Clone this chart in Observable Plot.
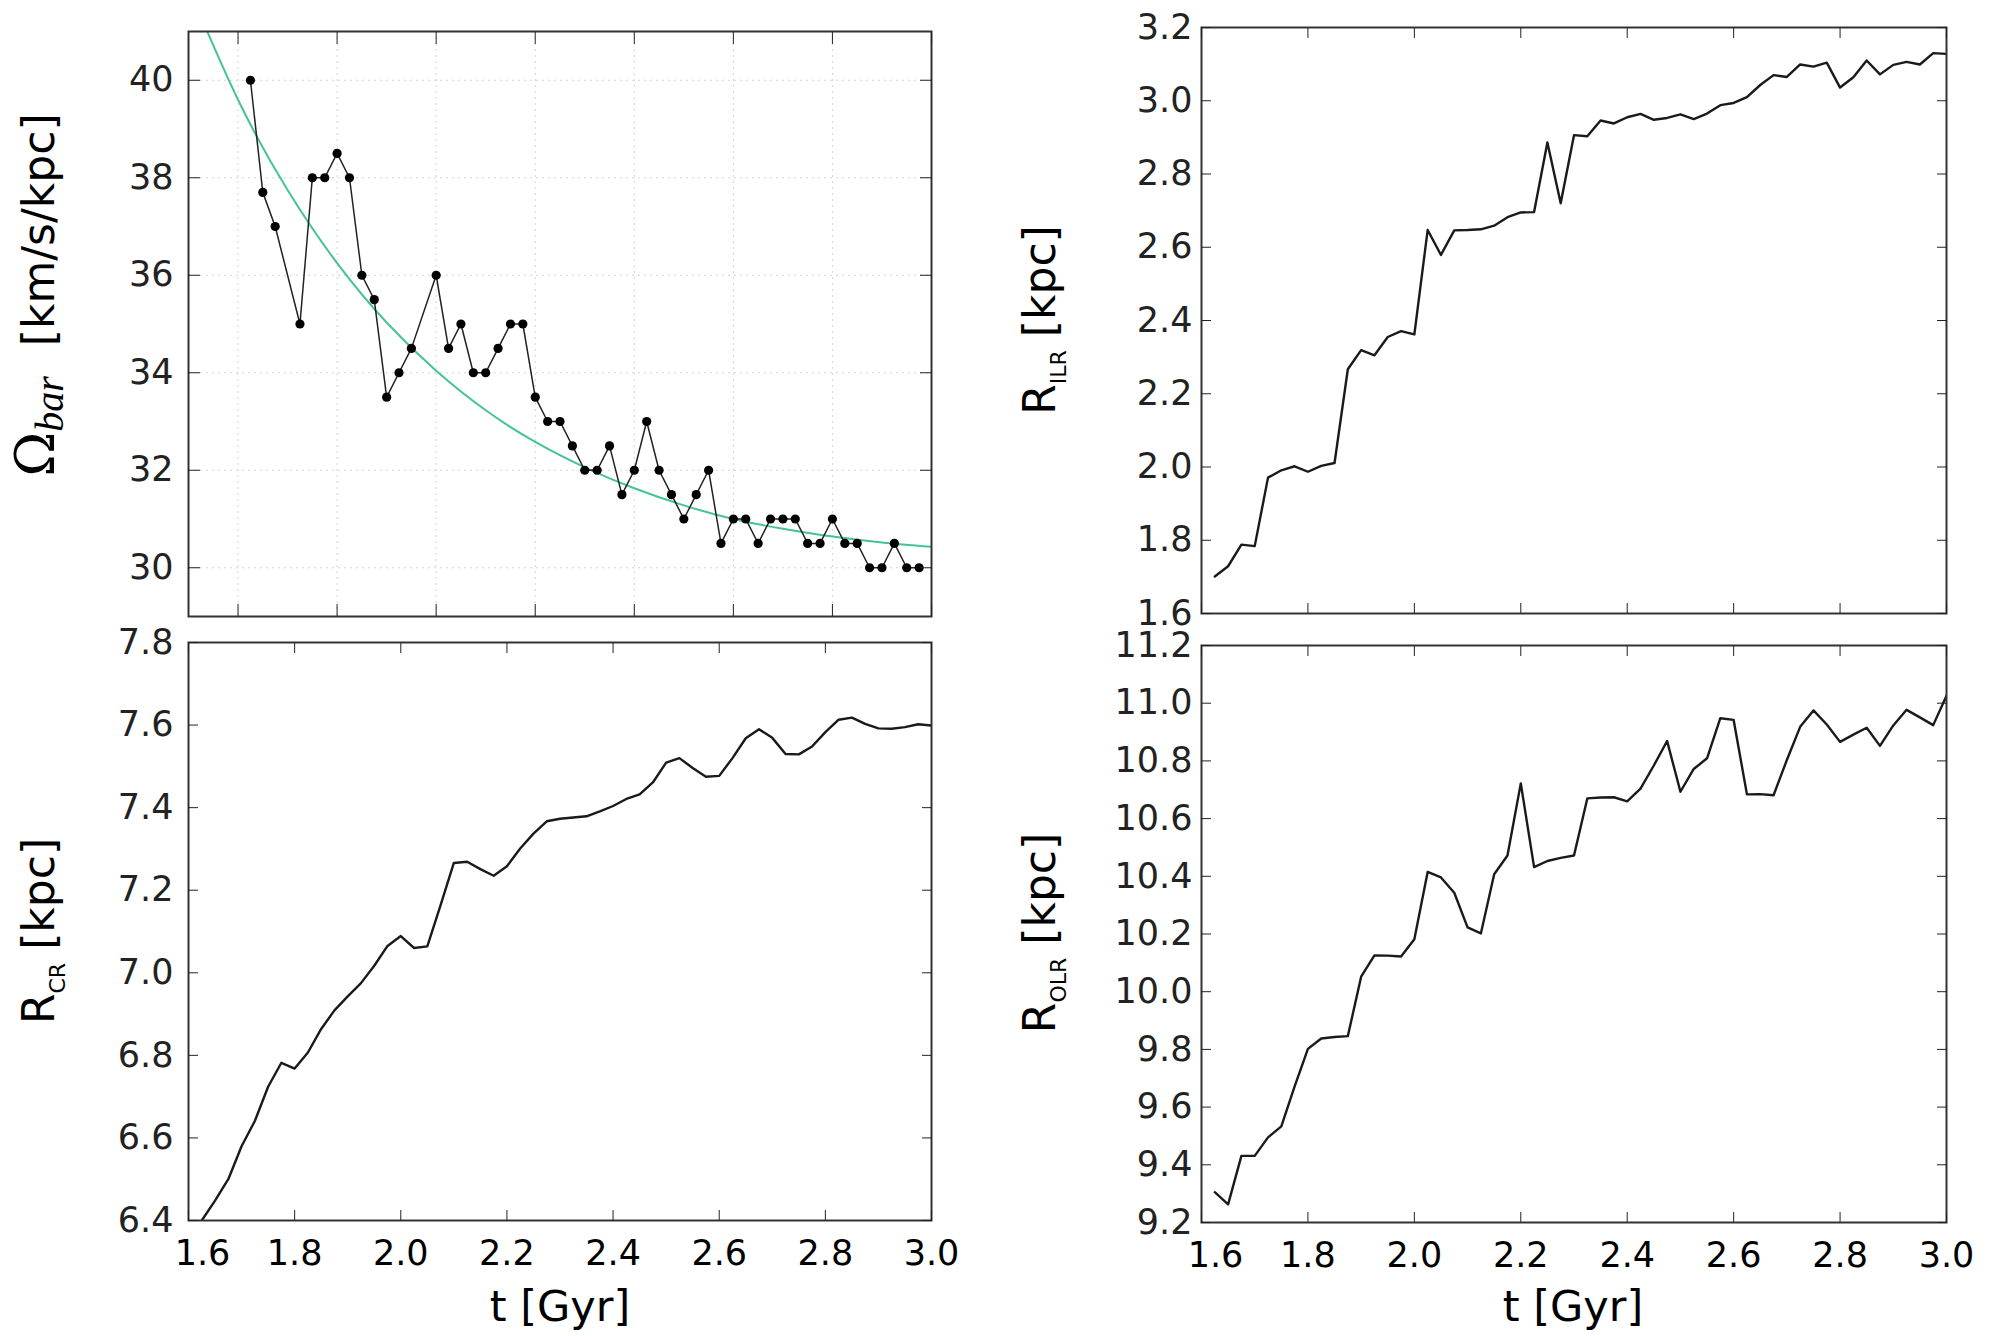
<!DOCTYPE html>
<html><head><meta charset="utf-8">
<script src="https://cdn.jsdelivr.net/npm/d3@7"></script>
<script src="https://cdn.jsdelivr.net/npm/@observablehq/plot@0.6"></script>
<style>
html,body{margin:0;padding:0;background:#fff;}
#fig{position:relative;width:1998px;height:1336px;background:#fff;overflow:hidden;}
#fig > svg{position:absolute;}
</style></head><body><div id="fig"></div>
<script>
// ---- data ----
const omegaT = [1.625,1.65,1.675,1.725,1.75,1.775,1.8,1.825,1.85,1.875,1.9,1.925,1.95,
  2.0,2.025,2.05,2.075,2.1,2.125,2.15,2.175,2.2,2.225,2.25,2.275,2.3,2.325,2.35,2.375,2.4,2.425,2.45,2.475,
  2.5,2.525,2.55,2.575,2.6,2.625,2.65,2.675,2.7,2.725,2.75,2.775,2.8,2.825,2.85,2.875,2.9,2.925,2.95,2.975];
const omegaV = [40,37.7,37,35,38,38,38.5,38,36,35.5,33.5,34,34.5,
  36,34.5,35,34,34,34.5,35,35,33.5,33,33,32.5,32,32,32.5,31.5,32,33,32,31.5,
  31,31.5,32,30.5,31,31,30.5,31,31,31,30.5,30.5,31,30.5,30.5,30,30,30.5,30,30];
const fitT = [1.5,1.6,1.7,1.8,1.9,2.0,2.1,2.2,2.3,2.4,2.5,2.6,2.7,2.8,2.9,3.0];
const fitV = [41.9,39.6,37.75,36.25,35.03,34.04,33.23,32.58,32.06,31.63,31.28,31.0,30.8,30.64,30.52,30.43];

const lineT = [1.625,1.65,1.675,1.7,1.725,1.75,1.775,1.8,1.825,1.85,1.875,1.9,1.925,1.95,1.975,
  2.0,2.025,2.05,2.075,2.1,2.125,2.15,2.175,2.2,2.225,2.25,2.275,2.3,2.325,2.35,2.375,2.4,2.425,2.45,2.475,
  2.5,2.525,2.55,2.575,2.6,2.625,2.65,2.675,2.7,2.725,2.75,2.775,2.8,2.825,2.85,2.875,2.9,2.925,2.95,2.975,3.0];
const ilrV = [1.701,1.729,1.788,1.784,1.971,1.991,2.002,1.987,2.003,2.011,2.267,2.319,2.305,2.355,2.371,
  2.362,2.647,2.579,2.646,2.647,2.649,2.659,2.682,2.695,2.696,2.886,2.720,2.906,2.903,2.946,2.938,2.955,2.964,2.948,2.953,
  2.963,2.950,2.965,2.988,2.994,3.010,3.043,3.070,3.065,3.099,3.093,3.104,3.036,3.064,3.110,3.072,3.098,3.106,3.099,3.130,3.128];
const crV = [6.400,6.448,6.500,6.580,6.641,6.724,6.782,6.768,6.807,6.864,6.909,6.943,6.975,7.017,7.065,
  7.089,7.060,7.064,7.164,7.266,7.269,7.251,7.235,7.258,7.301,7.337,7.367,7.373,7.376,7.379,7.391,7.404,7.421,7.432,7.461,
  7.509,7.520,7.496,7.475,7.477,7.520,7.568,7.590,7.569,7.530,7.529,7.548,7.583,7.613,7.618,7.603,7.592,7.591,7.595,7.602,7.599];
const olrV = [9.305,9.263,9.431,9.431,9.495,9.533,9.672,9.802,9.838,9.843,9.846,10.052,10.126,10.125,10.122,
  10.182,10.415,10.396,10.343,10.223,10.202,10.407,10.472,10.722,10.432,10.453,10.464,10.472,10.670,10.673,10.674,10.660,10.704,10.784,10.869,
  10.693,10.772,10.809,10.948,10.942,10.684,10.685,10.681,10.803,10.918,10.975,10.926,10.866,10.891,10.915,10.852,10.923,10.977,10.951,10.924,11.026];

// tick labels
const xTicks = [1.6,1.8,2.0,2.2,2.4,2.6,2.8,3.0];
const omegaTicks = [30,32,34,36,38,40];
const ilrTicks = [1.6,1.8,2.0,2.2,2.4,2.6,2.8,3.0,3.2];
const crTicks = [6.4,6.6,6.8,7.0,7.2,7.4,7.6,7.8];
const olrTicks = [9.2,9.4,9.6,9.8,10.0,10.2,10.4,10.6,10.8,11.0,11.2];

const omega = omegaT.map((t,i)=>({t, v: omegaV[i]}));
const fit = fitT.map((t,i)=>({t, v: fitV[i]}));
const ilr = lineT.map((t,i)=>({t, v: ilrV[i]}));
const cr = lineT.map((t,i)=>({t, v: crV[i]}));
const olr = lineT.map((t,i)=>({t, v: olrV[i]}));

const fig = document.getElementById("fig");
const fmt1 = d => d.toFixed(1);
const blank = () => "";
const INK = "#222";

function panel(o){
  const ts = o.tick;
  const marks = [];
  if (o.grid) {
    marks.push(Plot.gridX(xTicks, {stroke:"#d4d4d4", strokeOpacity:1, strokeWidth:1, strokeDasharray:"2,4"}));
    marks.push(Plot.gridY(o.yTicks, {stroke:"#d4d4d4", strokeOpacity:1, strokeWidth:1, strokeDasharray:"2,4"}));
  }
  marks.push(...o.marks);
  marks.push(Plot.frame({stroke:"#333", strokeWidth:2}));
  marks.push(Plot.axisY(o.yTicks, {anchor:"left", tickSize:-ts, tickPadding: ts + o.yPad, tickFormat:o.yFmt, fontSize:35, color:INK, label:null}));
  marks.push(Plot.axisY(o.yTicks, {anchor:"right", tickSize:-ts, tickFormat:blank, color:INK, label:null}));
  marks.push(Plot.axisX(xTicks, {anchor:"top", tickSize:-ts, tickFormat:blank, color:INK, label:null}));
  marks.push(Plot.axisX(xTicks, {anchor:"bottom", tickSize:-ts, tickFormat:blank, color:INK, label:null}));
  if (o.xLabels) {
    marks.push(Plot.axisX(xTicks.slice(1), {anchor:"bottom", tickSize:0, tickPadding:20, tickFormat:fmt1, fontSize:35, color:"#000", label:null}));
    marks.push(Plot.axisX(xTicks.slice(0,1), {anchor:"bottom", tickSize:0, tickPadding:20, dx:14, tickFormat:fmt1, fontSize:35, color:"#000", label:null}));
  }
  const svg = Plot.plot({
    width:o.W, height:o.H,
    marginLeft:o.m[0], marginRight:o.m[1], marginTop:o.m[2], marginBottom:o.m[3],
    x:{domain:o.xDomain, label:null},
    y:{domain:o.yDomain, label:null},
    style:{fontFamily:"DejaVu Sans", fontSize:"35px", background:"transparent", color:"#000", overflow:"visible"},
    marks
  });
  svg.style.left = o.left + "px";
  svg.style.top = o.top + "px";
  fig.appendChild(svg);
}

// top-left: pattern speed
panel({
  left:0, top:0, W:1000, H:630, m:[188,69,31,14],
  xDomain:[1.5,3.0], yDomain:[29,41], yTicks:omegaTicks, yFmt:d=>String(d), yPad:15, tick:12, grid:true,
  marks:[
    Plot.line(fit, {x:"t", y:"v", stroke:"#45c29b", strokeWidth:2, curve:"natural", clip:true}),
    Plot.line(omega, {x:"t", y:"v", stroke:"#222", strokeWidth:1.5}),
    Plot.dot(omega, {x:"t", y:"v", r:4.6, fill:"#000"})
  ]
});
// top-right: ILR
panel({
  left:1000, top:0, W:998, H:630, m:[201,52,27,17],
  xDomain:[1.6,3.0], yDomain:[1.6,3.2], yTicks:ilrTicks, yFmt:fmt1, yPad:9, tick:10,
  marks:[Plot.line(ilr, {x:"t", y:"v", stroke:"#1a1a1a", strokeWidth:2.4, clip:true})]
});
// bottom-left: CR
panel({
  left:0, top:630, W:1000, H:706, m:[188,69,12,116],
  xDomain:[1.6,3.0], yDomain:[6.4,7.8], yTicks:crTicks, yFmt:fmt1, yPad:15, tick:10, xLabels:true,
  marks:[Plot.line(cr, {x:"t", y:"v", stroke:"#1a1a1a", strokeWidth:2.4, clip:true})]
});
// bottom-right: OLR
panel({
  left:1000, top:630, W:998, H:706, m:[201,52,15,114],
  xDomain:[1.6,3.0], yDomain:[9.2,11.2], yTicks:olrTicks, yFmt:fmt1, yPad:9, tick:10, xLabels:true,
  marks:[Plot.line(olr, {x:"t", y:"v", stroke:"#1a1a1a", strokeWidth:2.4, clip:true})]
});

// axis titles
const ov = document.createElementNS("http://www.w3.org/2000/svg","svg");
ov.setAttribute("width","1998"); ov.setAttribute("height","1336");
ov.style.left = "0px"; ov.style.top = "0px"; ov.style.pointerEvents = "none";
ov.innerHTML = `
<g font-family="DejaVu Sans" fill="#000">
  <text transform="translate(54,295) rotate(-90)" text-anchor="middle" font-size="44"><tspan font-family="DejaVu Serif" font-size="54">Ω</tspan><tspan font-family="Liberation Serif" font-style="italic" font-size="40" dy="9">bar</tspan><tspan dy="-9" dx="30">[km/s/kpc]</tspan></text>
  <text transform="translate(54,931) rotate(-90)" text-anchor="middle" font-size="44">R<tspan font-size="22" dy="11">CR</tspan><tspan dy="-11" dx="13">[kpc]</tspan></text>
  <text transform="translate(1055,320) rotate(-90)" text-anchor="middle" font-size="44">R<tspan font-size="22" dy="11">ILR</tspan><tspan dy="-11" dx="13">[kpc]</tspan></text>
  <text transform="translate(1055,933) rotate(-90)" text-anchor="middle" font-size="44">R<tspan font-size="22" dy="11">OLR</tspan><tspan dy="-11" dx="13">[kpc]</tspan></text>
  <text x="560" y="1321" text-anchor="middle" font-size="43">t [Gyr]</text>
  <text x="1573" y="1321" text-anchor="middle" font-size="43">t [Gyr]</text>
</g>`;
fig.appendChild(ov);
</script>
</body></html>
